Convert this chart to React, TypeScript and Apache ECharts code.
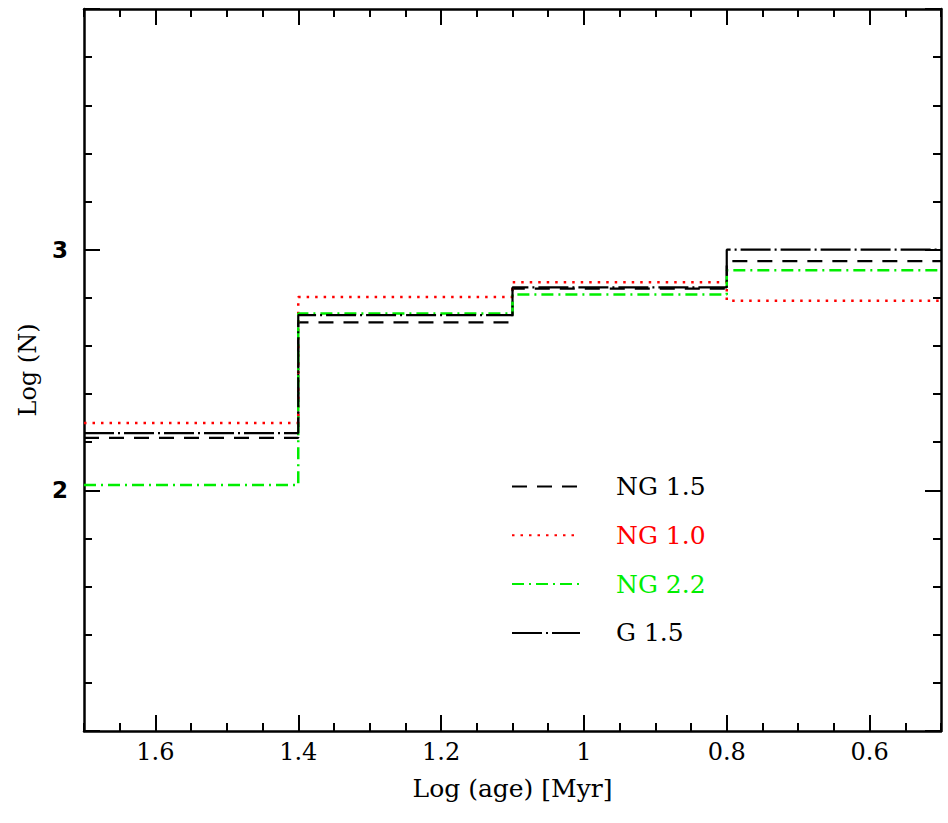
import React, { useEffect, useRef } from "react";
import * as echarts from "echarts";

const binEdges = [1.7, 1.4, 1.1, 0.8, 0.5];
const seriesNames = ["NG 1.5", "NG 1.0", "NG 2.2", "G 1.5"];
const ng15 = [2.218, 2.698, 2.838, 2.952];
const ng10 = [2.28, 2.803, 2.865, 2.788];
const ng22 = [2.022, 2.735, 2.814, 2.914];
const g15 = [2.238, 2.728, 2.843, 3.0];
const xTickLabels = [0.6, 0.8, 1, 1.2, 1.4, 1.6];
const yTickLabels = [2, 3];

function stepData(vals: number[]) {
  const pts: number[][] = vals.map((v, i) => [binEdges[i], v]);
  pts.push([binEdges[binEdges.length - 1], vals[vals.length - 1]]);
  return pts;
}

const SERIF = "'DejaVu Serif', 'Liberation Serif', serif";

export default function App() {
  const ref = useRef<HTMLDivElement>(null);
  useEffect(() => {
    if (!ref.current) return;
    const chart = echarts.init(ref.current, undefined, { renderer: "svg" });
    const axisLine = { show: true, onZero: false, lineStyle: { color: "#000", width: 2.5 } };
    const xBase = { type: "value", min: 0.5, max: 1.7, inverse: true, splitLine: { show: false } };
    const yBase = { type: "value", min: 1, max: 4, interval: 1, splitLine: { show: false } };
    const option: any = {
      animation: false,
      backgroundColor: "#fff",
      grid: { left: 84, right: 7, top: 9, bottom: 92, containLabel: false },
      xAxis: [
        {
          ...xBase,
          position: "bottom",
          axisLine,
          axisTick: { show: true, inside: true, length: 16, customValues: xTickLabels, lineStyle: { color: "#000", width: 2 } },
          axisLabel: {
            show: true,
            customValues: xTickLabels,
            margin: 9,
            color: "#000",
            fontFamily: SERIF,
            fontSize: 24,
            formatter: (v: number) => String(Math.round(v * 10) / 10),
          },
          name: "Log (age) [Myr]",
          nameLocation: "middle",
          nameGap: 45,
          nameTextStyle: { color: "#000", fontFamily: SERIF, fontSize: 25 },
        },
        {
          ...xBase,
          position: "bottom",
          interval: 0.05,
          axisLine: { show: false, onZero: false },
          axisTick: { show: true, inside: true, length: 8, lineStyle: { color: "#000", width: 2 } },
          axisLabel: { show: false },
        },
        {
          ...xBase,
          position: "top",
          axisLine,
          axisTick: { show: true, inside: true, length: 16, customValues: xTickLabels, lineStyle: { color: "#000", width: 2 } },
          axisLabel: { show: false },
        },
        {
          ...xBase,
          position: "top",
          interval: 0.05,
          axisLine: { show: false, onZero: false },
          axisTick: { show: true, inside: true, length: 8, lineStyle: { color: "#000", width: 2 } },
          axisLabel: { show: false },
        },
      ],
      yAxis: [
        {
          ...yBase,
          position: "left",
          axisLine,
          axisTick: { show: true, inside: true, length: 16, lineStyle: { color: "#000", width: 2 } },
          minorTick: { show: true, splitNumber: 5, length: 8, lineStyle: { color: "#000", width: 2 } },
          axisLabel: {
            show: true,
            margin: 16,
            color: "#000",
            fontFamily: "'DejaVu Sans', sans-serif",
            fontWeight: "bold",
            fontSize: 23,
            formatter: (v: number) => (yTickLabels.indexOf(Math.round(v)) >= 0 && Math.abs(v - Math.round(v)) < 1e-6 ? String(Math.round(v)) : ""),
          },
          name: "Log (N)",
          nameLocation: "middle",
          nameGap: 44,
          nameRotate: 90,
          nameTextStyle: { color: "#000", fontFamily: SERIF, fontSize: 24 },
        },
        {
          ...yBase,
          position: "right",
          axisLine,
          axisTick: { show: true, inside: true, length: 16, lineStyle: { color: "#000", width: 2 } },
          minorTick: { show: true, splitNumber: 5, length: 8, lineStyle: { color: "#000", width: 2 } },
          axisLabel: { show: false },
        },
      ],
      legend: {
        orient: "vertical",
        left: 506,
        top: 469,
        itemWidth: 68,
        itemHeight: 24,
        itemGap: 23.8,
        itemStyle: { color: "rgba(0,0,0,0)", borderColor: "rgba(0,0,0,0)", borderWidth: 0, opacity: 0 },
        data: [
          { name: seriesNames[0], textStyle: { color: "#000" } },
          { name: seriesNames[1], textStyle: { color: "#ff0000" } },
          { name: seriesNames[2], textStyle: { color: "#00ee00" } },
          { name: seriesNames[3], textStyle: { color: "#000" } },
        ],
        textStyle: { fontFamily: SERIF, fontSize: 25, padding: [0, 0, 0, 31], lineHeight: 24 },
      },
      series: [
        {
          name: seriesNames[0],
          type: "line",
          step: "end",
          symbol: "none",
          data: stepData(ng15),
          itemStyle: { color: "#000" },
          lineStyle: { color: "#000", width: 2.2, type: [15, 10] },
        },
        {
          name: seriesNames[1],
          type: "line",
          step: "end",
          symbol: "none",
          data: stepData(ng10),
          itemStyle: { color: "#ff0000" },
          lineStyle: { color: "#ff0000", width: 2.5, type: [2.5, 6] },
        },
        {
          name: seriesNames[2],
          type: "line",
          step: "end",
          symbol: "none",
          data: stepData(ng22),
          itemStyle: { color: "#00ee00" },
          lineStyle: { color: "#00ee00", width: 2.5, type: [12, 5, 2, 5] },
        },
        {
          name: seriesNames[3],
          type: "line",
          step: "end",
          symbol: "none",
          data: stepData(g15),
          itemStyle: { color: "#000" },
          lineStyle: { color: "#000", width: 2.2, type: [30, 4, 2, 4] },
        },
      ],
    };
    chart.setOption(option);
    return () => chart.dispose();
  }, []);
  return <div ref={ref} style={{ width: 948, height: 823, position: "fixed", left: 0, top: 0 }} />;
}
